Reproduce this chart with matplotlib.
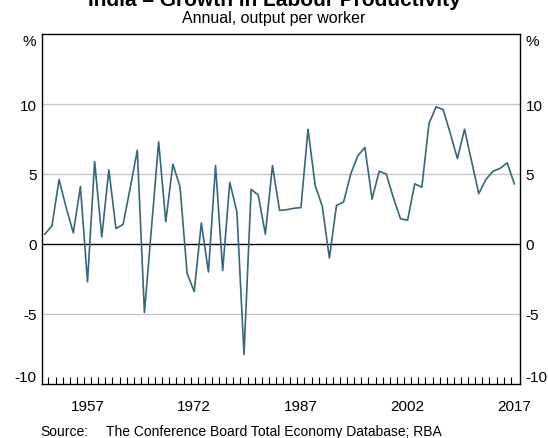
import numpy as np
import matplotlib
matplotlib.use("Agg")
import matplotlib.pyplot as plt

plt.rcParams['font.family'] = ['Liberation Sans', 'DejaVu Sans']

# Annual growth in output per worker, 1951-2017 (%)
years = list(range(1951, 2018))
growth = [
    0.7, 1.3, 4.6, 2.6, 0.8, 4.1, -2.7, 5.9, 0.5, 5.3,
    1.1, 1.4, 4.0, 6.7, -4.9, 1.2, 7.3, 1.6, 5.7, 4.1,
    -2.1, -3.4, 1.5, -2.0, 5.6, -1.9, 4.4, 2.3, -7.9, 3.9,
    3.5, 0.7, 5.6, 2.4, 2.45, 2.55, 2.6, 8.2, 4.2, 2.7,
    -1.0, 2.75, 3.0, 5.0, 6.3, 6.9, 3.2, 5.2, 5.0, 3.3,
    1.8, 1.7, 4.3, 4.05, 8.6, 9.8, 9.6, 7.9, 6.1, 8.2,
    5.9, 3.6, 4.6, 5.2, 5.4, 5.8, 4.3,
]
year_labels = [1957, 1972, 1987, 2002, 2017]
y_ticks = [-10, -5, 0, 5, 10, 15]
y_labels = ['-10', '-5', '0', '5', '10', '%']

fig = plt.figure(figsize=(5.48, 4.39), dpi=100)
ax = fig.add_axes([42 / 548, 1 - 385 / 439, 478 / 548, 350 / 439])

# grid lines and zero line
for v in [-5, 5, 10]:
    ax.axhline(v, color='#c8c8c8', lw=1, zorder=1)
ax.axhline(0, color='black', lw=1, zorder=2)

ax.plot(years, growth, color='#34687a', lw=1.2, zorder=3)

ax.set_xlim(1950.6, 2017.8)
ax.set_ylim(-10, 15)

ax.set_yticks(y_ticks)
ax.set_yticklabels(y_labels)
ax.tick_params(axis='y', length=0, labelsize=11, pad=4,
               left=True, right=True, labelleft=True, labelright=True)
for lab in ax.get_yticklabels(which='major'):
    if lab.get_text() == '%':
        lab.set_va('top')
    elif lab.get_text() == '-10':
        lab.set_va('bottom')

ax.set_xticks(year_labels)
ax.set_xticklabels([str(y) for y in year_labels])
ax.set_xticks(np.arange(1951.5, 2017.5, 1.0), minor=True)
ax.tick_params(axis='x', which='major', length=0, labelsize=11, pad=11)
ax.tick_params(axis='x', which='minor', direction='in', length=5, width=0.8,
               bottom=True, top=False)

for s in ax.spines.values():
    s.set_linewidth(1)
    s.set_color('black')

fig.text(0.5, 1 - 6 / 439, 'India – Growth in Labour Productivity',
         ha='center', va='baseline', fontsize=15, fontweight='bold')
fig.text(0.5, 1 - 19 / 439, 'Annual, output per worker',
         ha='center', va='center', fontsize=11.5)
fig.text(40 / 548, 1 - 432 / 439, 'Source:', ha='left', va='center', fontsize=10)
fig.text(106 / 548, 1 - 432 / 439, 'The Conference Board Total Economy Database; RBA',
         ha='left', va='center', fontsize=10)

fig.savefig('out.png', dpi=100)
